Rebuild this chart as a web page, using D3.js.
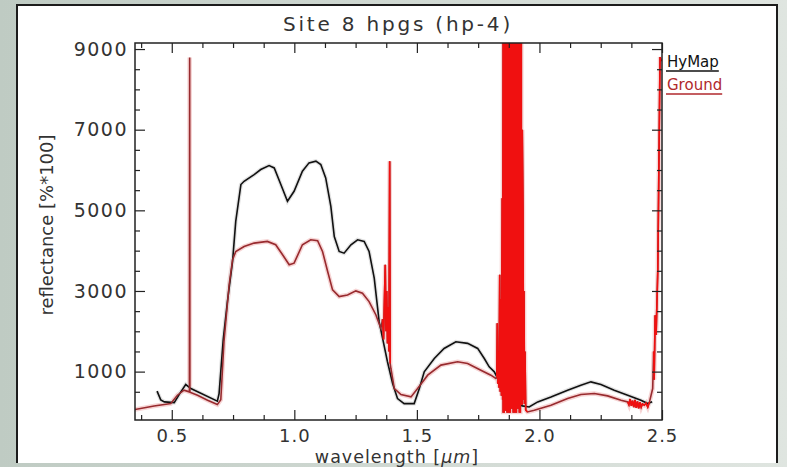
<!DOCTYPE html>
<html>
<head>
<meta charset="utf-8">
<script src="https://cdn.jsdelivr.net/npm/d3@7"></script>
<style>
  body { margin: 0; background: linear-gradient(90deg, #bfcbc3 0%, #d3dbd5 60%, #dfe5e0 100%); }
  svg { display: block; }
  text { font-family: "DejaVu Sans", sans-serif; fill: #333; }
</style>
</head>
<body>
<div id="chart"></div>
<script>
// HyMap (airborne) spectrum
let hymapWl  = [0.44, 0.455, 0.47, 0.51, 0.537, 0.557, 0.578, 0.686, 0.693, 0.71, 0.727, 0.748, 0.761, 0.782, 0.795,
                0.836, 0.863, 0.897, 0.918, 0.945, 0.972, 0.999, 1.033, 1.06, 1.088, 1.108, 1.128, 1.149, 1.163, 1.183,
                1.203, 1.231, 1.258, 1.285, 1.305, 1.326, 1.346, 1.38, 1.401, 1.421, 1.448, 1.489, 1.51, 1.53, 1.571,
                1.611, 1.659, 1.707, 1.748, 1.775, 1.795, 1.816, 1.84, 1.87, 1.93, 1.958, 1.993, 2.047, 2.115, 2.169,
                2.21, 2.251, 2.305, 2.36, 2.414, 2.442, 2.46];
let hymapRef = [515, 300, 250, 230, 497, 680, 580, 266, 455, 1800, 2736, 3731, 4726, 5639, 5721,
                5887, 6012, 6111, 6052, 5639, 5224, 5473, 5970, 6177, 6219, 6136, 5804, 5100, 4350, 3980,
                3938, 4146, 4270, 4229, 3980, 3317, 2239, 1244, 704, 331, 207, 207, 580, 995, 1326,
                1575, 1741, 1700, 1575, 1326, 1119, 995, 700, 300, 150, 124, 249, 373, 540, 664,
                746, 680, 540, 415, 290, 207, 250];

// Ground (field) spectrum, with the noisy water bands
let groundWl  = [0.35, 0.428, 0.496, 0.523, 0.55, 0.571, 0.572, 0.573, 0.574, 0.605, 0.646, 0.686, 0.70, 0.713, 0.734,
                 0.748, 0.761, 0.795, 0.836, 0.89, 0.924, 0.952, 0.979, 0.999, 1.033, 1.067, 1.095, 1.115, 1.136, 1.156,
                 1.183, 1.217, 1.251, 1.278, 1.305, 1.333, 1.353,
                 1.36, 1.364, 1.368, 1.371, 1.374, 1.377, 1.380, 1.383, 1.386, 1.389, 1.391, 1.394,
                 1.408, 1.435, 1.476, 1.503, 1.544, 1.598, 1.666, 1.707, 1.761, 1.802, 1.822,
                 1.826, 1.828, 1.830, 1.833, 1.835, 1.838, 1.840, 1.843, 1.845, 1.848, 1.850,
                 1.852, 1.852, 1.856, 1.856, 1.860, 1.860, 1.864, 1.864, 1.868, 1.868, 1.872, 1.872,
                 1.877, 1.877, 1.881, 1.881, 1.885, 1.885, 1.889, 1.889, 1.893, 1.893,
                 1.898, 1.898, 1.902, 1.902, 1.906, 1.906, 1.910, 1.910, 1.914, 1.914, 1.918, 1.918,
                 1.922, 1.922, 1.926, 1.926, 1.930, 1.930, 1.933, 1.935, 1.937, 1.939, 1.941, 1.944, 1.951,
                 1.979, 2.047, 2.115, 2.169, 2.224, 2.278, 2.333, 2.36,
                 2.365, 2.37, 2.375, 2.38, 2.385, 2.39, 2.395, 2.40, 2.405, 2.41, 2.415, 2.42, 2.428, 2.435, 2.442, 2.449,
                 2.462, 2.466, 2.468, 2.472, 2.476, 2.483, 2.488, 2.492, 2.497];
let groundRef = [60, 149, 207, 415, 540, 498, 500, 8790, 490, 415, 291, 182, 300, 1741, 3152,
                 3773, 3980, 4104, 4187, 4229, 4146, 3898, 3649, 3689, 4146, 4270, 4245, 3980, 3483, 3026,
                 2861, 2902, 3002, 2943, 2736, 2405, 2072,
                 2300, 1800, 2900, 3650, 2000, 3000, 1700, 2600, 1500, 6220, 1200, 1077,
                 580, 431, 373, 580, 912, 1161, 1244, 1202, 1036, 912, 829,
                 860, 2200, 700, 1500, 600, 3400, 500, 2800, 400, 5300, 300,
                 9800, 0, 0, 9800, 9800, 50, 50, 9800, 9800, 0, 0, 9800,
                 9800, 0, 0, 9800, 9800, 100, 100, 9800, 9800, 0,
                 0, 9800, 9800, 0, 0, 9800, 9800, 100, 100, 9800, 9800, 0,
                 0, 9800, 9800, 200, 200, 7000, 5000, 300, 3000, 200, 1500, 50, 0,
                 42, 166, 331, 431, 456, 398, 291, 250,
                 180, 320, 150, 280, 120, 300, 100, 260, 90, 240, 120, 200, 166, 220, 120, 249,
                 580, 1500, 800, 2400, 1907, 3565, 6500, 8800, 8700];

// wavelength ranges where the ground spectrum is saturated noise (drawn bright red)
let noisyBands = [[1.355, 1.392], [1.824, 1.952], [2.36, 2.45], [2.463, 2.5]];

let xMajorTicks = [0.5, 1.0, 1.5, 2.0, 2.5];
let xMinorTicks = [0.375, 0.625, 0.75, 0.875, 1.125, 1.25, 1.375, 1.625, 1.75, 1.875, 2.125, 2.25, 2.375];
let yMajorTicks = [1000, 3000, 5000, 7000, 9000];
let yMinorTicks = [500, 1500, 2000, 2500, 3500, 4000, 4500, 5500, 6000, 6500, 7500, 8000, 8500];

let legendNames = ["HyMap", "Ground"];

let dimensions = { width: 787, height: 467 };
let frame = { left: 135, right: 662, top: 43, bottom: 420 };

let svg = d3.select("#chart").append("svg")
    .attr("width", dimensions.width)
    .attr("height", dimensions.height);

// white panel
svg.append("rect")
    .attr("x", 17).attr("y", 5)
    .attr("width", 760).attr("height", 458)
    .style("fill", "white");
svg.append("path")
    .attr("d", "M17,463 V5 H777 V463")
    .style("fill", "none")
    .style("stroke", "#1c1c1c")
    .style("stroke-width", 2);

let x = d3.scaleLinear().domain([0.35, 2.5]).range([frame.left, frame.right]);
let y = d3.scaleLinear().domain([-200, 9150]).range([frame.bottom, frame.top]);

svg.append("clipPath").attr("id", "plotclip")
    .append("rect")
    .attr("x", frame.left).attr("y", frame.top)
    .attr("width", frame.right - frame.left)
    .attr("height", frame.bottom - frame.top);

let plot = svg.append("g").attr("clip-path", "url(#plotclip)");

let line = d3.line().x(d => x(d[0])).y(d => y(d[1]));
let hymap = hymapWl.map((w, i) => [w, hymapRef[i]]);
let ground = groundWl.map((w, i) => [w, groundRef[i]]);

// soft fringes like the original picture
plot.append("path").datum(ground).attr("d", line)
    .style("fill", "none").style("stroke", "#f6d4d4").style("stroke-width", 4.5);
plot.append("path").datum(hymap).attr("d", line)
    .style("fill", "none").style("stroke", "#e2e2e2").style("stroke-width", 4);

plot.append("path").datum(hymap).attr("d", line)
    .style("fill", "none").style("stroke", "#111").style("stroke-width", 1.6);
plot.append("path").datum(ground).attr("d", line)
    .style("fill", "none").style("stroke", "#982a2e").style("stroke-width", 1.6);

noisyBands.forEach(function (band) {
    let seg = ground.filter(d => d[0] >= band[0] && d[0] <= band[1]);
    plot.append("path").datum(seg).attr("d", line)
        .style("fill", "none").style("stroke", "#f01010").style("stroke-width", 1.6);
});

// axes: ticks point inward on all four sides
function drawAxis(axis, transform, size, ticks, labels) {
    let g = svg.append("g").attr("transform", transform)
        .call(axis.tickValues(ticks).tickSize(size));
    if (!labels) g.selectAll(".tick text").remove();
    g.select(".domain").remove();
    g.selectAll(".tick line").style("stroke", "#222").style("stroke-width", 1.2);
    return g;
}
let xb = drawAxis(d3.axisBottom(x).tickFormat(d3.format(".1f")), `translate(0,${frame.bottom})`, -10, xMajorTicks, true);
drawAxis(d3.axisBottom(x), `translate(0,${frame.bottom})`, -5, xMinorTicks, false);
drawAxis(d3.axisTop(x), `translate(0,${frame.top})`, -10, xMajorTicks, false);
drawAxis(d3.axisTop(x), `translate(0,${frame.top})`, -5, xMinorTicks, false);
let yl = drawAxis(d3.axisLeft(y).tickFormat(d3.format("d")), `translate(${frame.left},0)`, -10, yMajorTicks, true);
drawAxis(d3.axisLeft(y), `translate(${frame.left},0)`, -5, yMinorTicks, false);
drawAxis(d3.axisRight(y), `translate(${frame.right},0)`, -10, yMajorTicks, false);
drawAxis(d3.axisRight(y), `translate(${frame.right},0)`, -5, yMinorTicks, false);

xb.selectAll(".tick text")
    .attr("y", 9)
    .attr("dy", "0.71em")
    .style("font-size", "18px")
    .style("letter-spacing", "1px")
    .style("fill", "#333");
yl.selectAll(".tick text")
    .attr("x", -7)
    .style("font-size", "19px")
    .style("letter-spacing", "1.5px")
    .style("fill", "#333");

svg.append("rect")
    .attr("x", frame.left).attr("y", frame.top)
    .attr("width", frame.right - frame.left)
    .attr("height", frame.bottom - frame.top)
    .style("fill", "none")
    .style("stroke", "#222")
    .style("stroke-width", 1.5);

// title and axis titles
svg.append("text")
    .attr("x", 398).attr("y", 31)
    .attr("text-anchor", "middle")
    .style("font-size", "20px")
    .style("letter-spacing", "2.8px")
    .text("Site 8 hpgs (hp-4)");

svg.append("text")
    .attr("transform", "translate(53,225) rotate(-90)")
    .attr("text-anchor", "middle")
    .style("font-size", "18px")
    .text("reflectance [%*100]");

let xt = svg.append("text")
    .attr("x", 397).attr("y", 463)
    .attr("text-anchor", "middle")
    .style("font-size", "17.5px")
    .style("letter-spacing", "1px");
xt.append("tspan").text("wavelength [");
xt.append("tspan").style("font-style", "italic").text("\u03bcm");
xt.append("tspan").text("]");

// legend
let legendColors = ["#111", "#b0282c"];
legendNames.forEach(function (name, i) {
    let t = svg.append("text")
        .attr("x", 667).attr("y", 67 + i * 23)
        .style("font-size", "15px")
        .style("fill", legendColors[i])
        .text(name);
    let w = t.node().getComputedTextLength();
    svg.append("line")
        .attr("x1", 666).attr("x2", 667 + w)
        .attr("y1", 71 + i * 23).attr("y2", 71 + i * 23)
        .style("stroke", legendColors[i])
        .style("stroke-width", 1.3);
});
</script>
</body>
</html>
